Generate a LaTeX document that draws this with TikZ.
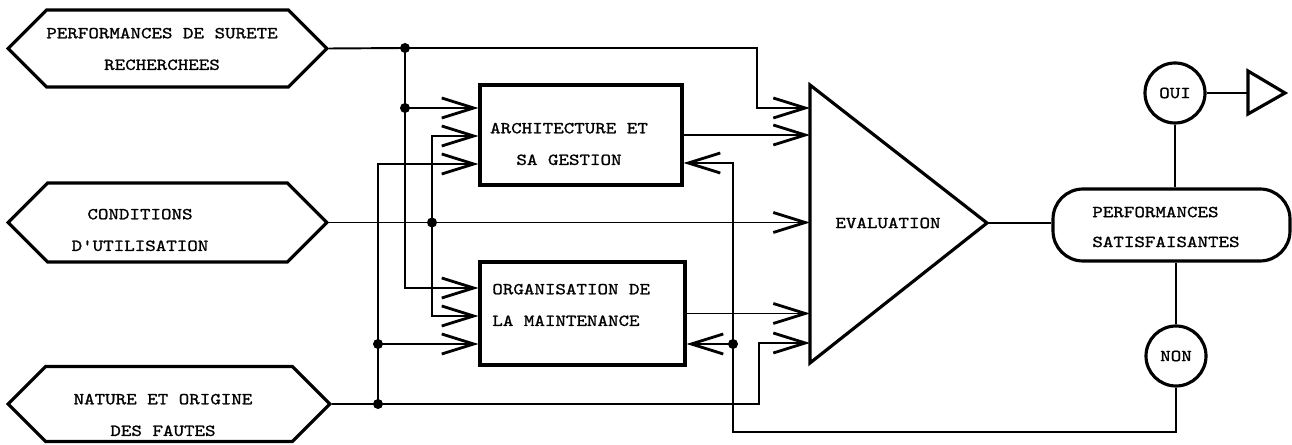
\documentclass[tikz,border=0pt]{standalone}
\usepackage{fontspec}
\newfontfamily\tw[FakeStretch=1.2,FakeBold=1.2]{lmmono10-regular.otf}
\usetikzlibrary{arrows.meta,shapes.symbols,shapes.misc}
\begin{document}
\begin{tikzpicture}[x=0.02cm,y=-0.02cm,
  shp/.style={draw, line width=1.8pt, line join=miter},
  ln/.style={line width=1.1pt},
  arr/.style={ln, -{Straight Barb[length=0.64cm,width=0.4cm,line width=1.6pt]}},
  txt/.style={font=\tw\fontsize{9.5}{18}\selectfont, inner sep=0pt},
  jdot/.style={circle, fill, inner sep=0pt, minimum size=0.2cm},
  hex/.style={shp, signal, signal to=west and east, signal pointer angle=90, minimum width=6.38cm, inner sep=0pt}
]
\useasboundingbox (0,0) rectangle (1292,445);
% input hexagons
\node[hex, minimum height=1.54cm] (h1) at (167.5,48.5) {};
\node[hex, minimum height=1.58cm] (h2) at (167.5,222.5) {};
\node[hex, minimum height=1.5cm, minimum width=6.44cm] (h3) at (169,404) {};
\node[txt, align=center] (t1) at (162,49) {PERFORMANCES DE SURETE\\RECHERCHEES};
\node[txt, align=center] (t2) at (140,230) {CONDITIONS\\D'UTILISATION};
\node[txt, align=center] (t3) at (163,415) {NATURE ET ORIGINE\\DES FAUTES};
% boxes
\node[shp, minimum width=4.04cm, minimum height=2cm] (arch) at (581,135) {};
\node[txt, align=center] (ta) at (569,144) {ARCHITECTURE ET\\SA GESTION};
\node[shp, minimum width=4.1cm, minimum height=2.06cm] (org) at (582.5,313.5) {};
\node[txt, align=left, anchor=west] (to) at (492,305) {ORGANISATION DE\\LA MAINTENANCE};
% evaluation triangle
\coordinate (et) at (810,85);
\coordinate (eb) at (810,363);
\coordinate (ea) at (987,223);
\draw[shp] (et) -- (eb) -- (ea) -- cycle;
\node[txt] (te) at (888,223) {EVALUATION};
% result
\node[shp, rounded corners=0.6cm, minimum width=4.74cm, minimum height=1.44cm] (perf) at (1171.5,225) {};
\node[txt, align=left, anchor=west] (tp) at (1092,227) {PERFORMANCES\\[-1pt]SATISFAISANTES};
\node[shp, circle, minimum size=1.2cm, inner sep=0pt, txt] (oui) at (1175,93) {OUI};
\node[shp, circle, minimum size=1.2cm, inner sep=0pt, txt] (non) at (1176,356) {NON};
\coordinate (ft) at (1248,71);
\coordinate (fb2) at (1248,114);
\coordinate (fa2) at (1285,93);
\draw[shp] (ft) -- (fb2) -- (fa2) -- cycle;
% junctions and corners
\coordinate (a1) at (405,48);
\coordinate (a2) at (405,108);
\coordinate (a3) at (405,288);
\coordinate (c1) at (432,222.5);
\coordinate (b1) at (432,136);
\coordinate (b2) at (432,316);
\coordinate (n1) at (378,404);
\coordinate (n2) at (378,344);
\coordinate (d1) at (378,164);
\coordinate (tk) at (757,108);
\coordinate (bk) at (759,343);
\coordinate (f1) at (733,344);
\coordinate (fa) at (733,163);
\coordinate (fb) at (733,432);
% connectors
\draw[ln] (h1.east) -- (a1);
\draw[arr] (a1) -| (tk) -- (tk -| et);
\draw[arr] (a1) -- (a2) -- (a2 -| arch.west);
\draw[arr] (a2) -- (a3) -- (a3 -| org.west);
\draw[arr] (h2.east) -- (h2.east -| et);
\draw[arr] (c1) -- (b1) -- (b1 -| arch.west);
\draw[arr] (c1) -- (b2) -- (b2 -| org.west);
\draw[ln] (h3.east) -- (n1);
\draw[arr] (n1) -| (bk) -- (bk -| et);
\draw[arr] (n1) -- (d1) -- (d1 -| arch.west);
\draw[arr] (n2) -- (n2 -| org.west);
\draw[arr] (arch.east) -- (arch.east -| et);
\draw[arr] (org.east) -- (org.east -| et);
\draw[ln] (ea) -- (ea -| perf.west);
\draw[ln] (oui.south) -- (oui.south |- perf.north);
\draw[ln] (oui.east) -- (oui.east -| ft);
\draw[ln] (non.north |- perf.south) -- (non.north);
\draw[ln] (non.south) |- (fb) -- (f1);
\draw[arr] (f1) -- (f1 -| org.east);
\draw[arr] (f1) -- (fa) -- (fa -| arch.east);
% dots
\node[jdot] (j1) at (a1) {};
\node[jdot] (j2) at (a2) {};
\node[jdot] (j3) at (c1) {};
\node[jdot] (j4) at (n1) {};
\node[jdot] (j5) at (n2) {};
\node[jdot] (j6) at (f1) {};
\end{tikzpicture}
\end{document}
